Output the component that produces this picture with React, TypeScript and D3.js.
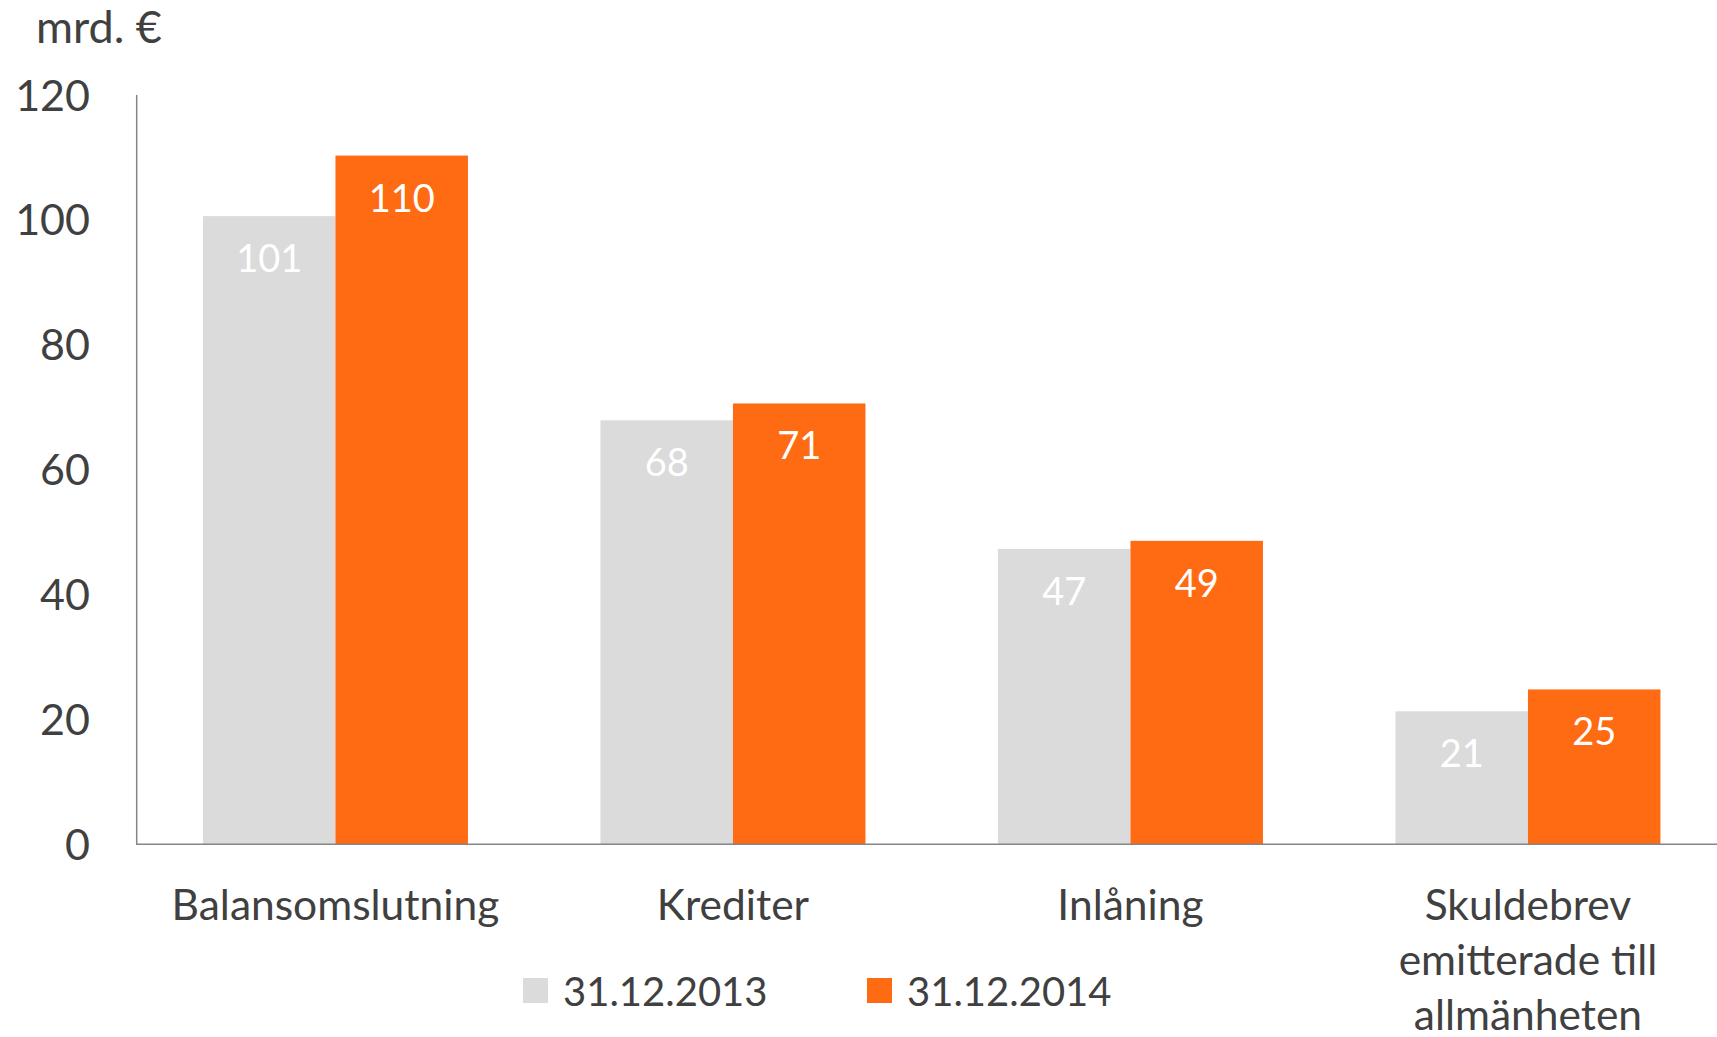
import React from "react";
import * as d3 from "d3";

const categories: string[][] = [
  ["Balansomslutning"],
  ["Krediter"],
  ["Inlåning"],
  ["Skuldebrev", "emitterade till", "allmänheten"],
];
const seriesNames = ["31.12.2013", "31.12.2014"];
const values2013 = [100.6, 67.9, 47.3, 21.3];
const values2014 = [110.3, 70.6, 48.6, 24.8];
const labels2013 = ["101", "68", "47", "21"];
const labels2014 = ["110", "71", "49", "25"];
const yTicks = [0, 20, 40, 60, 80, 100, 120];
const unitLabel = "mrd. €";

const W = 1717;
const H = 1037;
const FONT = "Lato, 'Open Sans', sans-serif";
const TEXT = "#404040";
const GRAY = "#DBDBDB";
const ORANGE = "#FF6B12";
const AXIS = "#868686";

export default function App() {
  const x = d3
    .scaleBand<number>()
    .domain(d3.range(categories.length))
    .range([136.7, 1726.7])
    .paddingInner(1 / 3)
    .paddingOuter(1 / 6);
  const xs = d3.scaleBand<number>().domain([0, 1]).range([0, x.bandwidth()]);
  const y = d3.scaleLinear().domain([0, 120]).range([844.3, 95]);
  const series = [
    { name: seriesNames[0], vals: values2013, labels: labels2013, color: GRAY },
    { name: seriesNames[1], vals: values2014, labels: labels2014, color: ORANGE },
  ];
  const legendX = [523, 867];

  return (
    <svg
      width={W}
      height={H}
      style={{ position: "absolute", left: 0, top: 0, background: "#fff" }}
      fontFamily={FONT}
    >
      <rect x={0} y={0} width={W} height={H} fill="#fff" />
      <text x={36} y={43} fontSize={45} fill={TEXT}>
        {unitLabel}
      </text>
      {yTicks.map((t) => (
        <text
          key={t}
          x={90}
          y={y(t) - 1}
          fontSize={43}
          fill={TEXT}
          textAnchor="end"
          dominantBaseline="central"
        >
          {t}
        </text>
      ))}
      {series.map((s, si) =>
        s.vals.map((v, i) => {
          const bx = (x(i) as number) + (xs(si) as number);
          return (
            <g key={`${si}-${i}`}>
              <rect
                x={bx}
                y={y(v)}
                width={xs.bandwidth()}
                height={y(0) - y(v)}
                fill={s.color}
              />
              <text
                x={bx + xs.bandwidth() / 2}
                y={y(v) + 41}
                fontSize={38}
                fill="#fff"
                textAnchor="middle"
                dominantBaseline="central"
              >
                {s.labels[i]}
              </text>
            </g>
          );
        })
      )}
      <line x1={136.7} x2={136.7} y1={95} y2={y(0)} stroke={AXIS} strokeWidth={1.5} />
      <line x1={136} x2={W} y1={y(0)} y2={y(0)} stroke={AXIS} strokeWidth={1.5} />
      {categories.map((lines, i) => (
        <text
          key={i}
          x={(x(i) as number) + x.bandwidth() / 2}
          fontSize={42.5}
          fill={TEXT}
          textAnchor="middle"
        >
          {lines.map((l, j) => (
            <tspan key={j} x={(x(i) as number) + x.bandwidth() / 2} y={920 + j * 55}>
              {l}
            </tspan>
          ))}
        </text>
      ))}
      {series.map((s, si) => (
        <g key={s.name}>
          <rect x={legendX[si]} y={978} width={25} height={25} fill={s.color} />
          <text
            x={legendX[si] + 40}
            y={991}
            fontSize={40}
            fill={TEXT}
            dominantBaseline="central"
          >
            {s.name}
          </text>
        </g>
      ))}
    </svg>
  );
}
